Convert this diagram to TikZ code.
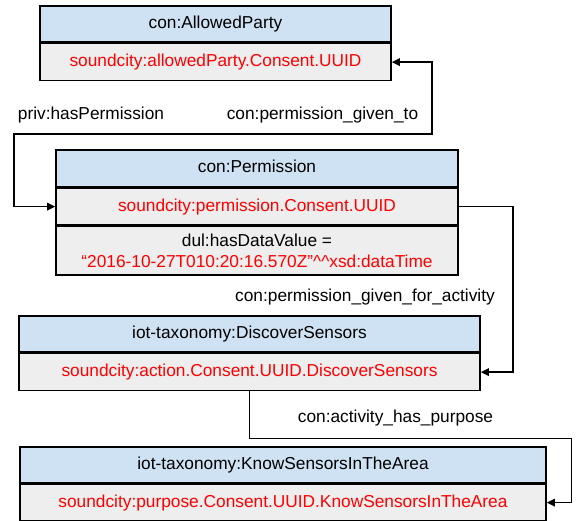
\documentclass[tikz,border=0pt]{standalone}
\usepackage{fontspec}
\setmainfont{Liberation Sans}
\usepackage{tikz}
\usetikzlibrary{positioning,arrows.meta}
\definecolor{headblue}{HTML}{CFE2F3}
\definecolor{rowgray}{HTML}{EEEEEE}
\definecolor{idred}{HTML}{FF0000}

\begin{document}
\begin{tikzpicture}[x=1pt, y=-1pt, font=\fontsize{17.3}{21}\selectfont,
  >={Triangle[length=8pt,width=7.5pt]},
  fixtext/.style={text height=12.5pt, text depth=3.5pt},
  head/.style={draw, line width=1.6pt, fill=headblue, inner sep=0pt, fixtext},
  row/.style={draw, line width=1.6pt, fill=rowgray, inner sep=0pt, text=idred, fixtext},
  valrow/.style={draw, line width=1.6pt, fill=rowgray, inner sep=0pt, align=center},
  link/.style={line width=1.5pt},
  lbl/.style={inner sep=0pt, fixtext}]
\useasboundingbox (0,0) rectangle (582,521);
%nodes

\node (AP) [head, minimum width=351pt, minimum height=36pt] at (215.5,24) {con:AllowedParty};
\node (APid) [row, minimum width=351pt, minimum height=37pt, below=0pt of AP] {soundcity:allowedParty.Consent.UUID};

\node (PM) [head, minimum width=402pt, minimum height=37pt] at (257,168.5) {con:Permission};
\node (PMid) [row, minimum width=402pt, minimum height=36pt, below=0pt of PM] {soundcity:permission.Consent.UUID};
\node (PMval) [valrow, minimum width=402pt, minimum height=49pt, below=0pt of PMid]
  {dul:hasDataValue =\\\textcolor{idred}{“2016-10-27T010:20:16.570Z”\textasciicircum\textasciicircum xsd:dataTime}};

\node (DS) [head, minimum width=461pt, minimum height=36pt] at (249.5,334) {iot-taxonomy:DiscoverSensors};
\node (DSid) [row, minimum width=461pt, minimum height=37pt, below=0pt of DS] {soundcity:action.Consent.UUID.DiscoverSensors};

\node (KS) [head, minimum width=526pt, minimum height=36pt] at (283,465) {iot-taxonomy:KnowSensorsInTheArea};
\node (KSid) [row, minimum width=526pt, minimum height=36pt, below=0pt of KS] {soundcity:purpose.Consent.UUID.KnowSensorsInTheArea};

%labels
\node (hasperm) [lbl] at (91,115) {priv:hasPermission};
\node (givento) [lbl] at (322.5,115) {con:permission\_given\_to};
\node (givenfor) [lbl] at (365,297) {con:permission\_given\_for\_activity};
\node (haspurp) [lbl] at (395.5,418) {con:activity\_has\_purpose};

%links
\draw[link, <->] (APid.east) -- ++(40,0) |- ++(-418,72) |- (PMid.west);
\draw[link, ->] (PMid.east) -- ++(54,0) |- (DSid.east);
\draw[link, ->] (DSid.south) |- ++(322,47) |- (KSid.east);
\end{tikzpicture}
\end{document}
